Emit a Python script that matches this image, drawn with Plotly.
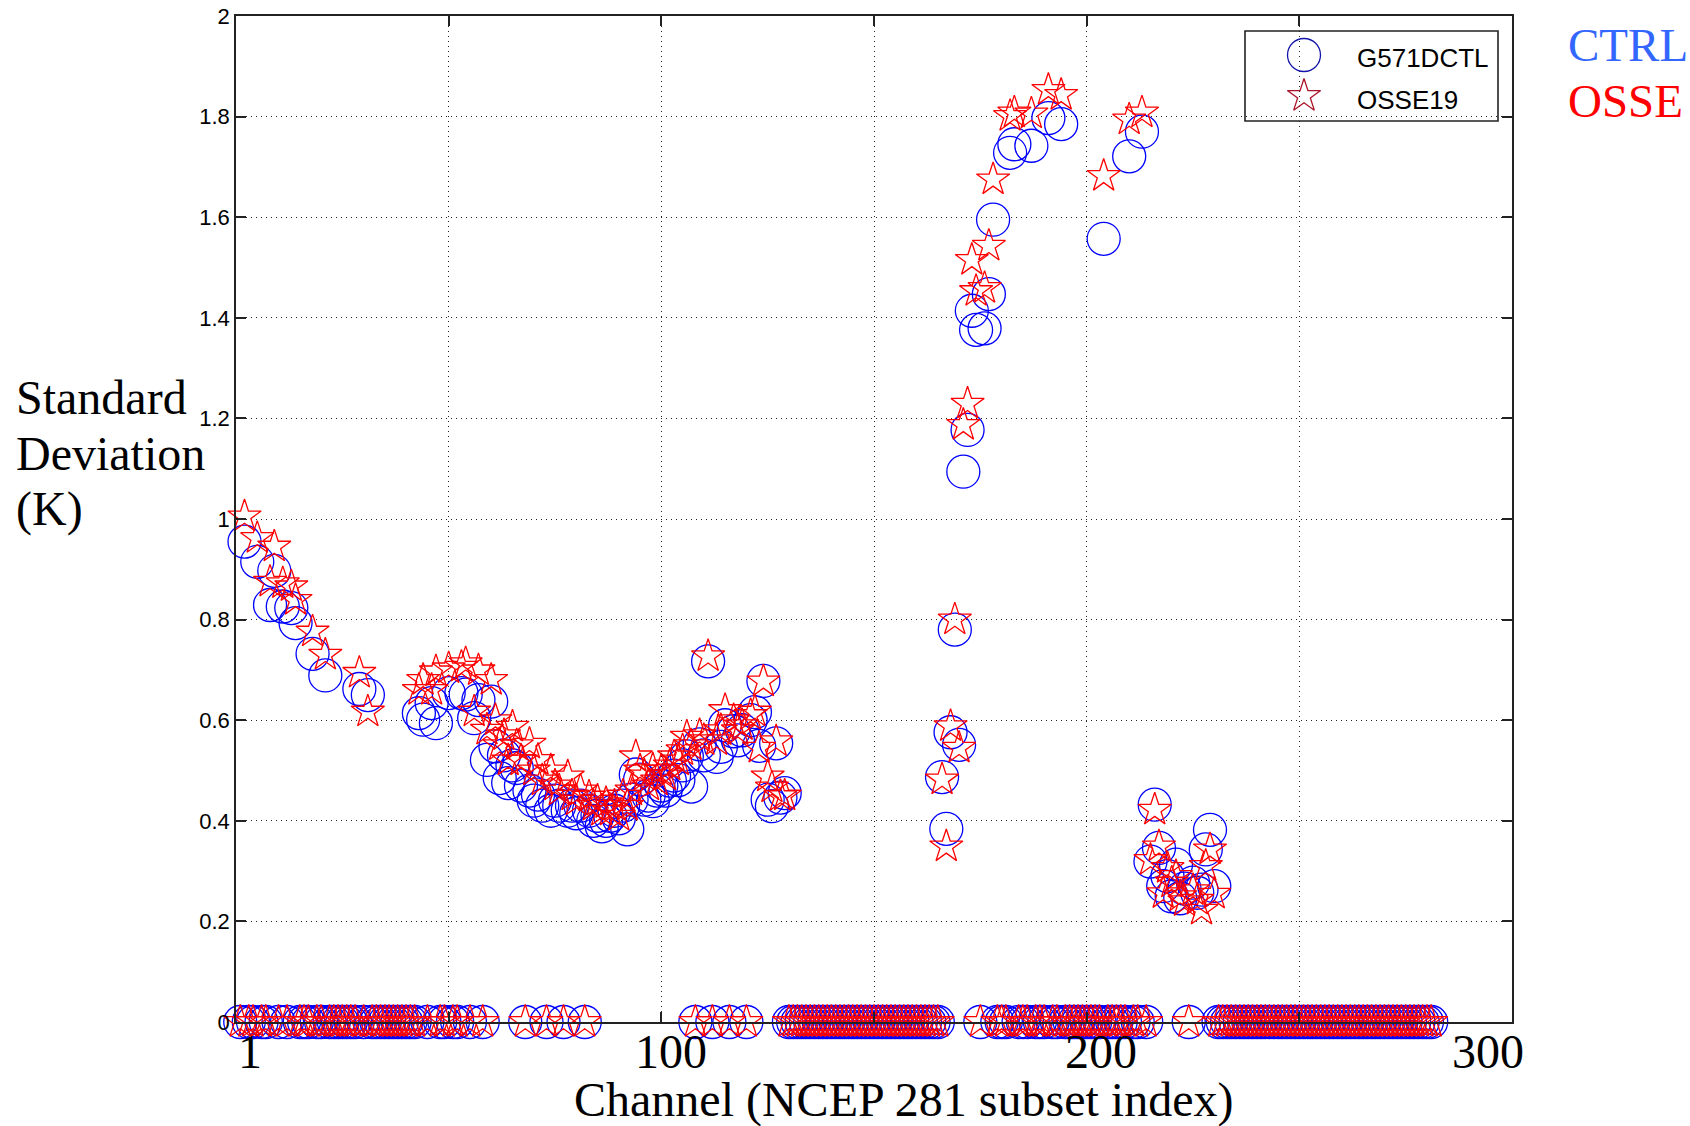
import plotly.graph_objects as go

# ---------------- data ----------------
N_CHANNELS = 281
CHANNELS = list(range(1, N_CHANNELS + 1))

# channels with non-zero standard deviation; all other channels read as 0
NONZERO_CH = [
    2, 5, 8, 9, 11, 13, 14, 18, 21, 29, 31,
    43, 44, 46, 47, 50, 53, 54, 56, 57,
    59, 60, 61, 62, 63, 64, 65, 66, 67,
    69, 70, 71, 72, 74, 75, 76, 78, 79, 80, 81,
    83, 84, 85, 86, 87, 88, 89, 90, 91, 92, 93, 94, 95, 96, 97, 98, 99,
    100, 101, 102, 103, 104, 105, 106, 107,
    109, 110, 111, 113, 114, 115, 117, 118, 119,
    121, 122, 123, 124, 125, 126, 127, 128, 129,
    166, 167, 168, 169, 170, 171, 172, 173, 174, 176, 177, 178,
    182, 183, 187, 191, 194, 204, 210, 213,
    215, 216, 217, 218, 219, 220, 221, 222, 223,
    225, 226, 227, 228, 229, 230,
]

CTRL_NZ = [
    0.955, 0.915, 0.829, 0.897, 0.826, 0.823, 0.793, 0.732, 0.689, 0.662, 0.650,
    0.614, 0.601, 0.634, 0.594, 0.654, 0.654, 0.651, 0.604, 0.640,
    0.521, 0.637, 0.548, 0.485, 0.530, 0.475, 0.510, 0.505, 0.470,
    0.460, 0.440, 0.452, 0.430, 0.420, 0.440, 0.430, 0.420, 0.430, 0.415, 0.430,
    0.420, 0.400, 0.410, 0.389, 0.400, 0.410, 0.420, 0.405, 0.430, 0.383, 0.442, 0.492, 0.482, 0.442, 0.450, 0.439, 0.460,
    0.470, 0.460, 0.480, 0.490, 0.481, 0.510, 0.528, 0.468,
    0.552, 0.530, 0.717, 0.527, 0.547, 0.590, 0.578, 0.560, 0.580,
    0.600, 0.616, 0.549, 0.678, 0.442, 0.429, 0.554, 0.446, 0.455,
    0.487, 0.384, 0.576, 0.780, 0.551, 1.094, 1.177, 1.414, 1.376, 1.379, 1.447, 1.595,
    1.728, 1.745, 1.742, 1.797, 1.785, 1.557, 1.721, 1.770,
    0.319, 0.432, 0.346, 0.270, 0.290, 0.250, 0.313, 0.246, 0.265,
    0.277, 0.257, 0.263, 0.343, 0.382, 0.270,
]

OSSE_NZ = [
    1.005, 0.962, 0.875, 0.945, 0.872, 0.866, 0.839, 0.776, 0.730, 0.694, 0.617,
    0.660, 0.680, 0.660, 0.697, 0.703, 0.706, 0.713, 0.617, 0.699,
    0.581, 0.680, 0.600, 0.550, 0.570, 0.520, 0.587, 0.550, 0.520,
    0.553, 0.500, 0.521, 0.480, 0.500, 0.470, 0.460, 0.488, 0.450, 0.440, 0.460,
    0.448, 0.430, 0.440, 0.420, 0.435, 0.420, 0.430, 0.410, 0.450, 0.430, 0.460, 0.528, 0.500, 0.490, 0.470, 0.502, 0.480,
    0.500, 0.490, 0.510, 0.528, 0.520, 0.540, 0.567, 0.550,
    0.570, 0.560, 0.727, 0.560, 0.580, 0.620, 0.600, 0.580, 0.590,
    0.610, 0.617, 0.545, 0.677, 0.488, 0.466, 0.558, 0.449, 0.450,
    0.482, 0.349, 0.588, 0.800, 0.545, 1.187, 1.229, 1.515, 1.453, 1.459, 1.543, 1.675,
    1.801, 1.808, 1.806, 1.853, 1.843, 1.682, 1.794, 1.808,
    0.322, 0.422, 0.349, 0.256, 0.306, 0.277, 0.290, 0.250, 0.240,
    0.262, 0.243, 0.223, 0.310, 0.343, 0.255,
]

SERIES_NAMES = ["G571DCTL", "OSSE19"]
X_TICK_CH = [1, 100, 200, 300]
X_TICK_LABELS = ["1", "100", "200", "300"]
Y_TICKS = [0, 0.2, 0.4, 0.6, 0.8, 1.0, 1.2, 1.4, 1.6, 1.8, 2.0]
Y_TICK_LABELS = ["0", "0.2", "0.4", "0.6", "0.8", "1", "1.2", "1.4", "1.6", "1.8", "2"]
X_GRID = [0, 50, 100, 150, 200, 250, 300]

ctrl = [0.0] * N_CHANNELS
osse = [0.0] * N_CHANNELS
for ch, c, o in zip(NONZERO_CH, CTRL_NZ, OSSE_NZ):
    ctrl[ch - 1] = c
    osse[ch - 1] = o

# ---------------- layout geometry ----------------
W, H = 1690, 1126
ML, MR, MT, MB = 236, 178, 16, 104
PW, PH = W - ML - MR, H - MT - MB


def px2paper(px, py):
    return (px - ML) / PW, (H - MB - py) / PH


BLUE = "rgb(0,0,255)"
RED = "rgb(255,0,0)"

fig = go.Figure()
fig.add_trace(go.Scatter(
    x=CHANNELS, y=ctrl, mode="markers", name=SERIES_NAMES[0],
    marker=dict(symbol="circle-open", size=33, color=BLUE, line=dict(width=1.3, color=BLUE)),
    cliponaxis=False, showlegend=False,
))
fig.add_trace(go.Scatter(
    x=CHANNELS, y=osse, mode="markers", name=SERIES_NAMES[1],
    marker=dict(symbol="star-open", size=25, color=RED, line=dict(width=1.3, color=RED)),
    cliponaxis=False, showlegend=False,
))

# ---------------- legend (drawn manually to allow large symbols) ----------------
lx0, ly0 = px2paper(1245, 121)
lx1, ly1 = px2paper(1498, 31)
shapes = [dict(type="rect", xref="paper", yref="paper", x0=lx0, y0=ly0, x1=lx1, y1=ly1,
               line=dict(color="#222222", width=1.6), fillcolor="white", layer="between")]

kx, ky1 = px2paper(1304, 55)
_, ky2 = px2paper(1304, 96)
fig.add_trace(go.Scatter(
    x=[kx], y=[ky1], xaxis="x2", yaxis="y2", mode="markers", showlegend=False,
    marker=dict(symbol="circle-open", size=33, color="rgb(20,20,170)", line=dict(width=1.3)),
    cliponaxis=False, hoverinfo="skip",
))
fig.add_trace(go.Scatter(
    x=[kx], y=[ky2], xaxis="x2", yaxis="y2", mode="markers", showlegend=False,
    marker=dict(symbol="star-open", size=25, color="rgb(170,20,40)", line=dict(width=1.3)),
    cliponaxis=False, hoverinfo="skip",
))

annotations = []
tx, ty1 = px2paper(1355, 58)
_, ty2 = px2paper(1355, 100)
for name, ty in zip(SERIES_NAMES, [ty1, ty2]):
    annotations.append(dict(text=name, xref="paper", yref="paper", x=tx, y=ty,
                            xanchor="left", yanchor="middle", showarrow=False,
                            font=dict(family="Liberation Sans", size=26, color="black")))

# y-axis title (three lines)
for txt, py in zip(["Standard", "Deviation", "(K)"], [397, 453, 509]):
    ax_, ay_ = px2paper(14, py)
    annotations.append(dict(text=txt, xref="paper", yref="paper", x=ax_, y=ay_,
                            xanchor="left", yanchor="middle", showarrow=False,
                            font=dict(family="Liberation Serif", size=48, color="black")))

# x tick labels (large, serif)
_, xty = px2paper(0, 1051)
for ch, lab, sh in zip(X_TICK_CH, X_TICK_LABELS, [10, 10, 14, -24]):
    annotations.append(dict(text=lab, xref="x", yref="paper", x=ch, y=xty, xshift=sh,
                            xanchor="center", yanchor="middle", showarrow=False,
                            font=dict(family="Liberation Serif", size=48, color="black")))

# x-axis title
ttx, tty = px2paper(903, 1100)
annotations.append(dict(text="Channel (NCEP 281 subset index)", xref="paper", yref="paper",
                        x=ttx, y=tty, xanchor="center", yanchor="middle", showarrow=False,
                        font=dict(family="Liberation Serif", size=48, color="black")))

# CTRL / OSSE labels on the right
cx, cy = px2paper(1566, 45)
_, oy = px2paper(1566, 101)
annotations.append(dict(text="CTRL", xref="paper", yref="paper", x=cx, y=cy,
                        xanchor="left", yanchor="middle", showarrow=False,
                        font=dict(family="Liberation Serif", size=47, color="rgb(51,102,255)")))
annotations.append(dict(text="OSSE", xref="paper", yref="paper", x=cx, y=oy,
                        xanchor="left", yanchor="middle", showarrow=False,
                        font=dict(family="Liberation Serif", size=47, color=RED)))

axis_common = dict(
    ticks="inside", ticklen=10, tickwidth=1.5, tickcolor="#222222",
    showline=True, linecolor="#222222", linewidth=1.6, mirror="ticks",
    showgrid=True, gridcolor="#222222", gridwidth=1, griddash="1px,4px",
    zeroline=False, automargin=False,
)

fig.update_layout(
    width=W, height=H,
    margin=dict(l=ML, r=MR, t=MT, b=MB, pad=0, autoexpand=False),
    paper_bgcolor="white", plot_bgcolor="white",
    showlegend=False,
    xaxis=dict(range=[0, 300], tickvals=X_GRID, showticklabels=False, **axis_common),
    yaxis=dict(range=[0, 2], tickvals=Y_TICKS, ticktext=Y_TICK_LABELS,
               tickfont=dict(family="Liberation Sans", size=22, color="black"),
               **axis_common),
    xaxis2=dict(range=[0, 1], domain=[0, 1], overlaying="x", visible=False, fixedrange=True),
    yaxis2=dict(range=[0, 1], domain=[0, 1], overlaying="y", visible=False, fixedrange=True),
    shapes=shapes,
    annotations=annotations,
)

fig.write_html("out.html")
